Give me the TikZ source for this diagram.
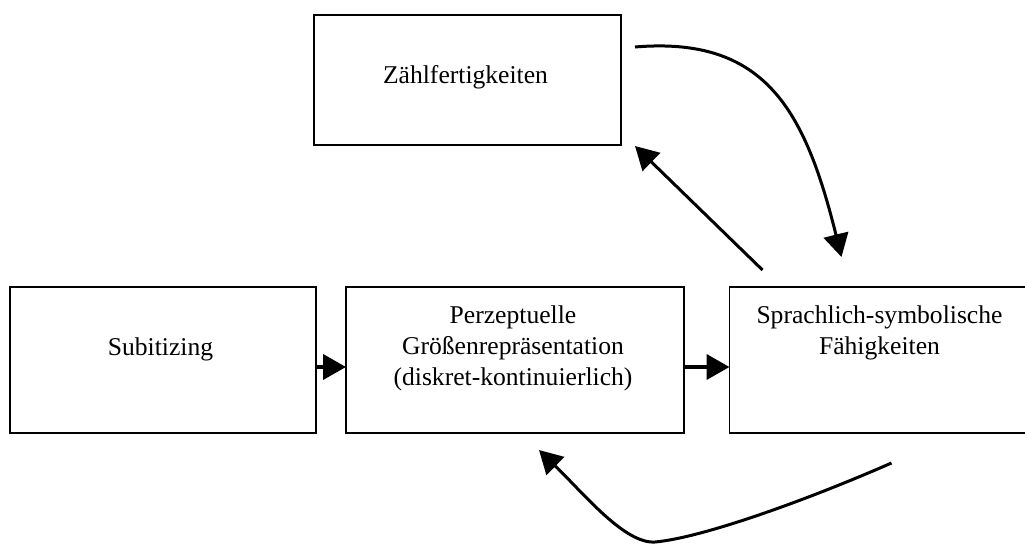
\documentclass[tikz,border=0pt]{standalone}
\usepackage{fontspec}
\setmainfont{Liberation Serif}
\usetikzlibrary{arrows.meta}

\begin{document}
\begin{tikzpicture}[x=0.5pt,y=-0.5pt,
  box/.style={draw,line width=0.6pt,rectangle,inner sep=0pt,outer sep=0pt},
  txt/.style={align=center,anchor=base,inner sep=0pt,font=\fontsize{12.8}{15.5}\selectfont},
  harr/.style={line width=2pt,-{Triangle[length=11.5pt,width=12.5pt]}},
  carr/.style={line width=1.5pt,-{Triangle[length=11.5pt,width=12.5pt]}}]
\useasboundingbox (0,0) rectangle (1025,543);
\node[box,minimum width=153.5pt,minimum height=65pt] (Zaehl) at (467.5,80) {};
\node[box,minimum width=153pt,minimum height=73pt] (Sub) at (163,360) {};
\node[box,minimum width=169pt,minimum height=73pt] (Perz) at (515,360) {};
\node[box,minimum width=151pt,minimum height=73pt] (Sprach) at (880.5,360) {};
% base = baseline of the last line
\node[txt] (ZaehlT) at ([xshift=-1pt,yshift=-34pt]Zaehl.north) {Zählfertigkeiten};
\node[txt] (SubT) at ([xshift=-1.25pt,yshift=-34pt]Sub.north) {Subitizing};
\node[txt] (PerzT) at ([xshift=-1pt,yshift=-49pt]Perz.north) {Perzeptuelle\\Größenrepräsentation\\(diskret-kontinuierlich)};
\node[txt] (SprachT) at ([xshift=-0.5pt,yshift=-33.5pt]Sprach.north) {Sprachlich-symbolische\\Fähigkeiten};
\draw[harr] ([yshift=-3.5pt]Sub.east) -- ([yshift=-3.5pt]Perz.west);
\draw[harr] ([yshift=-3.5pt]Perz.east) -- ([yshift=-3.5pt]Sprach.west);
\draw[carr] ([shift={(16.5pt,8.5pt)}]Sprach.north west) -- ([shift={(7pt,-0.5pt)}]Zaehl.south east);
\draw[carr] ([shift={(7pt,-16pt)}]Zaehl.north east) .. controls (765,36) and (805,110) .. ([shift={(56pt,15pt)}]Sprach.north west);
\draw[carr] ([shift={(5.5pt,-15pt)}]Sprach.south) .. controls (800,503) and (700,538) .. (655,542)
  .. controls (625,544) and (585,495) .. ([shift={(12pt,-8.5pt)}]Perz.south);
\end{tikzpicture}
\end{document}
